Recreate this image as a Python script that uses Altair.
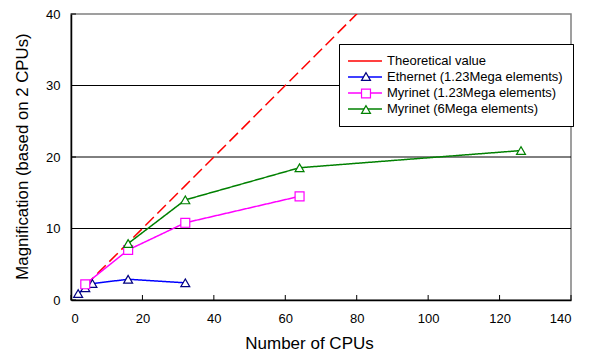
import altair as alt
import pandas as pd

series_names = ["Theoretical value", "Ethernet (1.23Mega elements)",
                "Myrinet (1.23Mega elements)", "Myrinet (6Mega elements)"]
theo_x = [4, 8, 16, 32, 64, 128]
theo_y = [2, 4, 8, 16, 32, 64]
eth_x = [2, 4, 6, 16, 32]
eth_y = [0.9, 1.7, 2.3, 2.9, 2.4]
myr123_x = [4, 16, 32, 64]
myr123_y = [2.2, 7.0, 10.8, 14.5]
myr6_x = [16, 32, 64, 126]
myr6_y = [7.9, 14.0, 18.5, 20.9]

x_ticks = [0, 20, 40, 60, 80, 100, 120, 140]
y_ticks = [0, 10, 20, 30, 40]
grid_values = [10, 20, 30]

line_colors = ["#FF0000", "#0000FF", "#FF00FF", "#008000"]
marker_colors = ["#FF0000", "#000080", "#FF00FF", "#008000"]
marker_shapes = ["M0,0", "triangle-up", "square", "triangle-up"]
dashes = [[12, 5], [1, 0], [1, 0], [1, 0]]

rows = []
for name, xs, ys in zip(series_names, [theo_x, eth_x, myr123_x, myr6_x],
                        [theo_y, eth_y, myr123_y, myr6_y]):
    for i, (x, y) in enumerate(zip(xs, ys)):
        rows.append({"series": name, "marker": name, "cpus": x, "mag": y, "order": i})
df = pd.DataFrame(rows)
pts = df[df["series"] != series_names[0]]

FONT = "Liberation Sans"
xscale = alt.Scale(domain=[0, 140], nice=False, zero=True)
yscale = alt.Scale(domain=[0, 40], nice=False)
xaxis = alt.Axis(values=x_ticks, title="Number of CPUs", titleX=238, titleY=43,
                 titleBaseline="middle")
yaxis = alt.Axis(values=y_ticks, title="Magnification (based on 2 CPUs)",
                 titleX=-49, titleY=142, titleBaseline="middle", titleFontSize=16.8)

LEG_X, LEG_Y, PAD = 268, 30, 10
line_leg = dict(orient="none", legendX=LEG_X, legendY=LEG_Y, title=None,
                symbolType="M-2.83,0H2.83", symbolSize=144, symbolStrokeWidth=1.5,
                symbolOffset=9, labelOffset=15, labelLimit=400,
                labelFont=FONT, labelFontSize=13, labelColor="black",
                padding=PAD, fillColor="white", strokeColor="black", rowPadding=2)
pt_leg = dict(orient="none", legendX=LEG_X, legendY=LEG_Y, title=None,
              symbolSize=80, symbolStrokeWidth=1.2, symbolFillColor="white",
              symbolOffset=10.5, labelOffset=15, labelLimit=400,
              labelFont=FONT, labelFontSize=13, labelOpacity=0,
              padding=PAD, rowPadding=2)

grid = alt.Chart(pd.DataFrame({"g": grid_values})).mark_rule(color="black", strokeWidth=1).encode(
    y=alt.Y("g:Q", scale=yscale, axis=yaxis))
xt = alt.Chart(pd.DataFrame({"t": x_ticks})).mark_rule(color="black", strokeWidth=1).encode(
    x=alt.X("t:Q", scale=xscale, axis=xaxis), y=alt.value(286), y2=alt.value(281))
yt = alt.Chart(pd.DataFrame({"t": y_ticks})).mark_rule(color="black", strokeWidth=1).encode(
    y=alt.Y("t:Q", scale=yscale, axis=yaxis), x=alt.value(0), x2=alt.value(5))

lines = alt.Chart(df).mark_line(clip=True, strokeWidth=1.5).encode(
    x=alt.X("cpus:Q", scale=xscale, axis=xaxis),
    y=alt.Y("mag:Q", scale=yscale, axis=yaxis),
    order="order:Q",
    color=alt.Color("series:N", scale=alt.Scale(domain=series_names, range=line_colors),
                    legend=alt.Legend(**line_leg)),
    strokeDash=alt.StrokeDash("series:N", scale=alt.Scale(domain=series_names, range=dashes),
                              legend=alt.Legend(**line_leg)),
)

points = alt.Chart(pts).mark_point(filled=False, fill="white", fillOpacity=1, opacity=1,
                                   size=80, strokeWidth=1.2).encode(
    x=alt.X("cpus:Q", scale=xscale, axis=xaxis),
    y=alt.Y("mag:Q", scale=yscale, axis=yaxis),
    color=alt.Color("marker:N", scale=alt.Scale(domain=series_names, range=marker_colors),
                    legend=alt.Legend(**pt_leg)),
    shape=alt.Shape("marker:N", scale=alt.Scale(domain=series_names, range=marker_shapes),
                    legend=alt.Legend(**pt_leg)),
)

chart = alt.layer(grid, xt, yt, lines, points).resolve_scale(
    color="independent", shape="independent").resolve_legend(
    color="independent", shape="independent").properties(
    width=500, height=286,
    autosize=alt.AutoSizeParams(type="none"),
    padding={"left": 63, "top": 6, "right": 10, "bottom": 52},
).configure_view(stroke="#808080", strokeWidth=1.5).configure_axis(
    grid=False, ticks=False, domainColor="black", domainWidth=1.5,
    labelFont=FONT, labelFontSize=13, labelColor="black",
    titleFont=FONT, titleFontSize=17, titleFontWeight="normal", titleColor="black",
).configure_axisX(labelPadding=12).configure_axisY(labelPadding=11)

chart.save("out.html", embed_options={"renderer": "svg", "actions": False})
